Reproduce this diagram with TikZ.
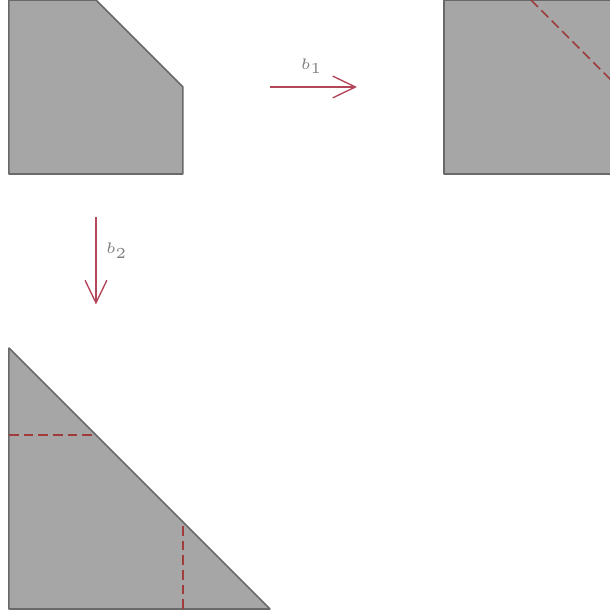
\documentclass[tikz,border=0pt]{standalone}
\usepackage{amsmath}
\usetikzlibrary{arrows.meta, positioning}
\definecolor{edgegray}{RGB}{105,105,105}
\definecolor{piecegray}{RGB}{166,166,166}
\definecolor{mapred}{RGB}{180,70,90}
\definecolor{cutred}{RGB}{160,60,60}

\begin{document}
\begin{tikzpicture}[
                piece/.style={draw=edgegray, fill=piecegray, line width=0.5pt, line join=round},
                cut/.style={draw=cutred, dash pattern=on 3.2pt off 1.6pt, line width=0.5pt},
                arr/.style={-{Straight Barb[length=2.6mm, width=2.5mm]}, draw=mapred, line width=0.45pt},
                lbl/.style={font=\tiny, text=gray, anchor=center}
            ]
            \useasboundingbox (-0.103,-5.069) rectangle (6.897,2.0);
            % source piece
            \draw[piece] (0,0) -- (2,0) -- (2,1) -- (1,2) -- (0,2) -- cycle;
            % image under b_1
            \draw[piece] (5,0) rectangle (7,2);
            \draw[cut] (6,2) -- (7,1);
            % image under b_2
            \draw[piece] (0,-5) -- (3,-5) -- (0,-2) -- cycle;
            \draw[cut] (0,-3) -- (1,-3);
            \draw[cut] (2,-5) -- (2,-4);
            % maps
            \coordinate (s1) at (3,1);
            \coordinate (t1) at (4,1);
            \coordinate (s2) at (1,-0.5);
            \coordinate (t2) at (1,-1.5);
            \draw[arr] (s1) -- node[lbl, xshift=-0.2mm, yshift=2.4mm] (b1) {$b_1$} (t1);
            \draw[arr] (s2) -- node[lbl, xshift=2.4mm, yshift=1.2mm] (b2) {$b_2$} (t2);
        \end{tikzpicture}
\end{document}
